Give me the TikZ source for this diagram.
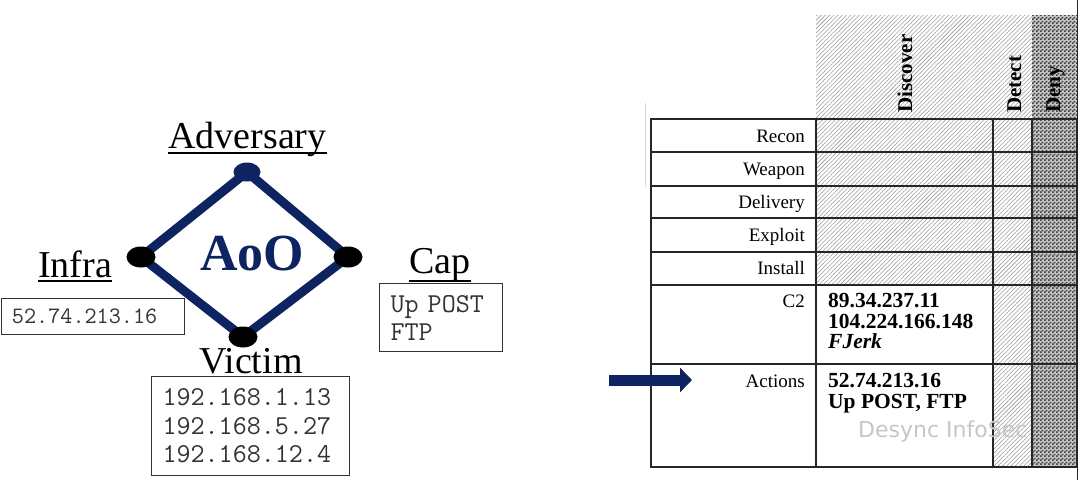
\documentclass[tikz,border=0pt]{standalone}
\usepackage{fontspec}
\setmainfont{Liberation Serif}
\setmonofont{Latin Modern Mono}
\newfontfamily\wmfont{DejaVu Sans}
\usetikzlibrary{shapes.geometric,patterns,patterns.meta,arrows.meta}
\definecolor{navy}{HTML}{0E2461}
\pgfdeclarepatternformonly{tinychecker}{\pgfpointorigin}{\pgfpoint{4pt}{4pt}}{\pgfpoint{4pt}{4pt}}{%
  \pgfpathrectangle{\pgfpointorigin}{\pgfpoint{2pt}{2pt}}%
  \pgfpathrectangle{\pgfpoint{2pt}{2pt}}{\pgfpoint{2pt}{2pt}}%
  \pgfusepath{fill}}
\tikzset{
  title/.style={font=\fontsize{38}{40}\selectfont, inner sep=0pt, anchor=base},
  uline/.style={line width=1.2pt, black},
  dot/.style={ellipse, fill=black, minimum width=29pt, minimum height=21pt, inner sep=0pt},
  edge/.style={navy, line width=9pt},
  monobox/.style={draw=black!80, line width=1pt, text=black!80, align=left, anchor=north west, inner ysep=0pt},
  hatch/.style={pattern={Lines[angle=45,distance=3pt,line width=0.55pt]}, pattern color=gray!80},
  checker/.style={fill=gray!45, postaction={pattern=tinychecker, pattern color=black!75}},
  grid/.style={draw=black!85, line width=1.2pt},
  rowlabel/.style={font=\fontsize{19}{21}\selectfont, anchor=base east, inner sep=0pt},
  colhead/.style={font=\bfseries\fontsize{21}{23}\selectfont, anchor=base west, rotate=90, inner sep=0pt},
  cell/.style={font=\bfseries\fontsize{21.5}{23}\selectfont, anchor=base west, inner sep=0pt},
}
\begin{document}
\begin{tikzpicture}[x=1pt,y=-1pt]
\useasboundingbox (0,0) rectangle (1080,480);

% ---------- Diamond model ----------
\node[title] (advt) at (247.5,148) {Adversary};
\draw[uline] ([yshift=-5pt]advt.base west) -- ([yshift=-5pt]advt.base east);
\node[title] (infrat) at (75,277) {Infra};
\draw[uline] ([yshift=-4pt]infrat.base west) -- ([yshift=-4pt]infrat.base east);
\node[title] (capt) at (440,273) {Cap};
\draw[uline] ([yshift=-8pt]capt.base west) -- ([yshift=-8pt]capt.base east);
\node[title] (victt) at (251,373) {Victim};

\coordinate (pa) at (247,172);
\coordinate (pi) at (141,257);
\coordinate (pc) at (348,257);
\coordinate (pv) at (243,337);
\draw[edge, line join=round] (pa) -- (pc) -- (pv) -- (pi) -- cycle;
\node[dot, fill=navy, minimum width=27pt, minimum height=19pt] (dadv) at (pa) {};
\node[dot] (dinf) at (pi) {};
\node[dot] (dcap) at (pc) {};
\node[dot] (dvic) at (pv) {};

\node[font=\bfseries\fontsize{52}{54}\selectfont, text=navy, inner sep=0pt, anchor=base] (aoo) at (252,270) {AoO};

\node[monobox, font=\ttfamily\fontsize{23.5}{24}\selectfont, minimum height=36pt, text width=161pt, inner xsep=11pt] (infbox) at (0.5,298) {52.74.213.16};
\node[monobox, font=\ttfamily\fontsize{27.3}{28}\selectfont, minimum height=68pt, text width=101pt, inner xsep=11pt] (capbox) at (379,283) {Up POST\\FTP};
\node[monobox, font=\ttfamily\fontsize{27.3}{28.5}\selectfont, minimum height=99pt, text width=176pt, inner xsep=11pt] (vicbox) at (151,376) {192.168.1.13\\192.168.5.27\\192.168.12.4};

% ---------- Table ----------
\fill[hatch] (816,15) rectangle (1032,119);
\fill[checker] (1032,15) rectangle (1077,119);
\fill[hatch] (816,119) rectangle (993,285);
\fill[hatch] (993,119) rectangle (1032,467);
\fill[checker] (1032,119) rectangle (1077,467);

\draw[grid] (651,119) rectangle (1077,467);
\foreach \yy in {152,186,218,252,285,364} {
  \draw[grid] (651,\yy) -- (1077,\yy);
}
\foreach \xx in {816,993,1032} {
  \draw[grid] (\xx,119) -- (\xx,467);
}
\draw[black!85, line width=1pt] (1077,0) -- (1077,480);
\draw[gray!30, line width=1pt] (645,103) -- (645,187);

\node[colhead] (hdisc) at (912,113) {Discover};
\node[colhead] (hdet) at (1021,113) {Detect};
\node[colhead] (hdeny) at (1060,113) {Deny};

\node[rowlabel] (lrecon) at (805,142) {Recon};
\node[rowlabel] (lweap) at (805,175) {Weapon};
\node[rowlabel] (ldeliv) at (805,208) {Delivery};
\node[rowlabel] (lexpl) at (805,241) {Exploit};
\node[rowlabel] (linst) at (805,274) {Install};
\node[rowlabel] (lc2) at (805,307) {C2};
\node[rowlabel] (lact) at (805,387) {Actions};

\node[cell] (c2a) at (828,307) {89.34.237.11};
\node[cell] (c2b) at (828,328) {104.224.166.148};
\node[cell] (c2c) at (828,348) {\itshape FJerk};
\node[cell] (aca) at (828,387) {52.74.213.16};
\node[cell] (acb) at (828,408) {Up POST, FTP};

\coordinate (arS) at (609,380);
\coordinate (arE) at (692,380);
\draw[navy, line width=11pt, -{Triangle[length=12pt,width=24pt]}] (arS) -- (arE);

\node[font=\wmfont\fontsize{22}{24}\selectfont, text=gray!45, anchor=base west, inner sep=0pt] (wm) at (858,437) {Desync InfoSec};
\end{tikzpicture}
\end{document}
